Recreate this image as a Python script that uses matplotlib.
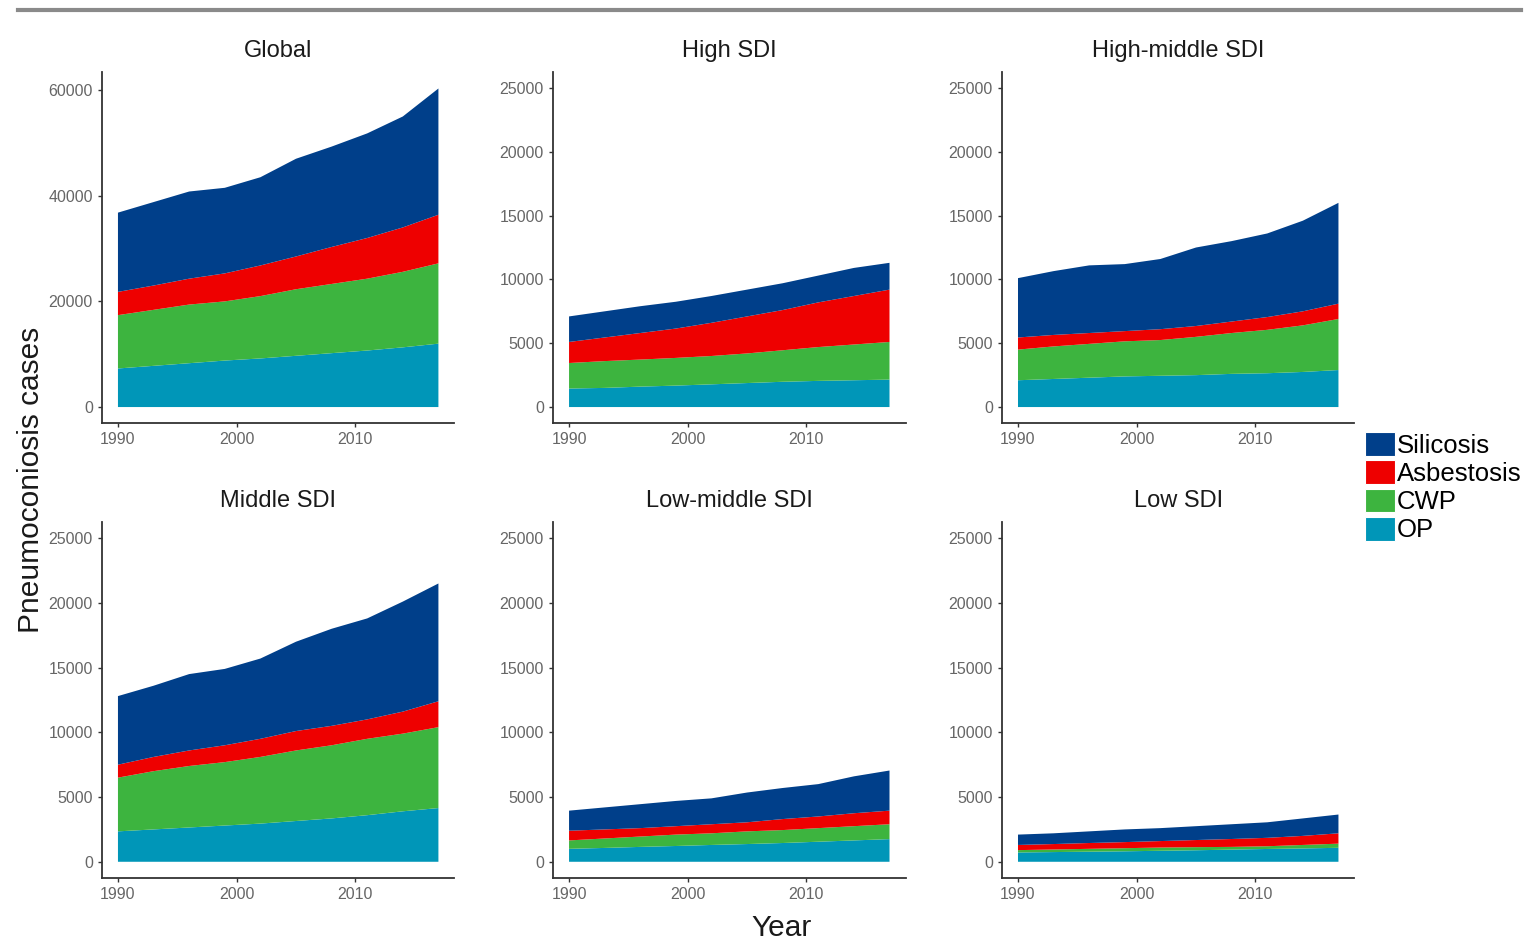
import matplotlib.pyplot as plt
from matplotlib.patches import Patch
from matplotlib.lines import Line2D

plt.rcParams['font.family'] = ['Liberation Sans', 'DejaVu Sans']

years = [1990, 1993, 1996, 1999, 2002, 2005, 2008, 2011, 2014, 2017]

regions = ["Global", "High SDI", "High-middle SDI",
           "Middle SDI", "Low-middle SDI", "Low SDI"]

# per-region values (not cumulative)
op = {
    "Global": [7300, 7800, 8300, 8800, 9200, 9700, 10200, 10700, 11300, 12000],
    "High SDI": [1450, 1500, 1600, 1680, 1780, 1880, 1980, 2050, 2100, 2150],
    "High-middle SDI": [2100, 2200, 2300, 2400, 2450, 2500, 2600, 2650, 2750, 2900],
    "Middle SDI": [2350, 2500, 2650, 2800, 2950, 3150, 3350, 3600, 3900, 4150],
    "Low-middle SDI": [1000, 1070, 1150, 1220, 1300, 1370, 1450, 1550, 1650, 1750],
    "Low SDI": [720, 750, 780, 810, 850, 890, 940, 990, 1030, 1080],
}
cwp = {
    "Global": [10100, 10600, 11100, 11200, 11800, 12600, 13100, 13600, 14300, 15200],
    "High SDI": [2000, 2100, 2120, 2170, 2220, 2320, 2470, 2650, 2800, 2950],
    "High-middle SDI": [2400, 2550, 2650, 2750, 2800, 3000, 3200, 3400, 3650, 4000],
    "Middle SDI": [4150, 4500, 4750, 4900, 5150, 5450, 5650, 5900, 6000, 6250],
    "Low-middle SDI": [650, 730, 800, 880, 900, 980, 1000, 1050, 1100, 1150],
    "Low SDI": [180, 200, 220, 240, 250, 240, 210, 210, 270, 320],
}
asbestosis = {
    "Global": [4400, 4600, 4900, 5300, 5800, 6200, 7000, 7700, 8400, 9200],
    "High SDI": [1650, 1850, 2080, 2300, 2600, 2900, 3150, 3500, 3800, 4100],
    "High-middle SDI": [950, 900, 850, 800, 850, 850, 900, 1000, 1100, 1200],
    "Middle SDI": [1000, 1100, 1200, 1300, 1400, 1500, 1500, 1500, 1700, 2000],
    "Low-middle SDI": [750, 700, 650, 650, 700, 700, 850, 900, 1000, 1050],
    "Low SDI": [400, 420, 450, 470, 500, 550, 610, 650, 700, 800],
}
silicosis = {
    "Global": [15000, 15800, 16500, 16200, 16700, 18500, 19000, 19800, 21000, 23900],
    "High SDI": [2000, 2050, 2100, 2100, 2100, 2100, 2100, 2100, 2200, 2100],
    "High-middle SDI": [4650, 5000, 5300, 5250, 5500, 6150, 6300, 6550, 7100, 7900],
    "Middle SDI": [5300, 5500, 5900, 5900, 6200, 6900, 7500, 7800, 8500, 9100],
    "Low-middle SDI": [1550, 1700, 1850, 1950, 2000, 2300, 2400, 2500, 2850, 3100],
    "Low SDI": [800, 830, 900, 980, 1000, 1070, 1140, 1200, 1350, 1450],
}

colors = {"Silicosis": "#003f8a", "Asbestosis": "#ee0000",
          "CWP": "#3db43f", "OP": "#0096b8"}

fig = plt.figure(figsize=(15.26, 9.4), dpi=100)

lefts = [0.0668, 0.3624, 0.6566]
rows = [(0.55, 0.3734), (0.066, 0.3787)]

for i, reg in enumerate(regions):
    r, c = divmod(i, 3)
    ax = fig.add_axes([lefts[c], rows[r][0], 0.2310, rows[r][1]])
    ax.stackplot(years, op[reg], cwp[reg], asbestosis[reg], silicosis[reg],
                 colors=[colors["OP"], colors["CWP"], colors["Asbestosis"], colors["Silicosis"]],
                 linewidth=0)
    if reg == "Global":
        top = 60400
        ax.set_yticks([0, 20000, 40000, 60000])
    else:
        top = 25000
        ax.set_yticks([0, 5000, 10000, 15000, 20000, 25000])
    ax.set_ylim(-0.05 * top, 1.05 * top)
    ax.set_xlim(1990 - 1.35, 2017 + 1.35)
    ax.set_xticks([1990, 2000, 2010])
    ax.spines['top'].set_visible(False)
    ax.spines['right'].set_visible(False)
    for s in ['left', 'bottom']:
        ax.spines[s].set_color('#333333')
        ax.spines[s].set_linewidth(1.3)
    ax.tick_params(length=3, width=1, color='#333333', labelsize=11.5,
                   labelcolor='#666666')
    ax.set_title(reg, fontsize=17, color='#1a1a1a', pad=11)

fig.text(0.02, 0.49, "Pneumoconiosis cases", rotation=90, fontsize=21.5,
         ha='center', va='center', color='#1a1a1a')
fig.text(0.512, 0.013, "Year", fontsize=21.5, ha='center', va='center',
         color='#1a1a1a')

# top rule
fig.add_artist(Line2D([0.012, 0.997], [0.989, 0.989], color='#8a8a8a',
                      linewidth=3, transform=fig.transFigure))

handles = [Patch(facecolor=colors[k], edgecolor='white', linewidth=0.8)
           for k in ["Silicosis", "Asbestosis", "CWP", "OP"]]
fig.legend(handles, ["Silicosis", "Asbestosis", "CWP", "OP"],
           loc='upper left', bbox_to_anchor=(0.8945, 0.5404), frameon=False,
           fontsize=18.5, handlelength=1.15, handleheight=1.05,
           handletextpad=0.1, labelspacing=0.1, borderpad=0,
           borderaxespad=0)

fig.savefig("out.png", dpi=100)
